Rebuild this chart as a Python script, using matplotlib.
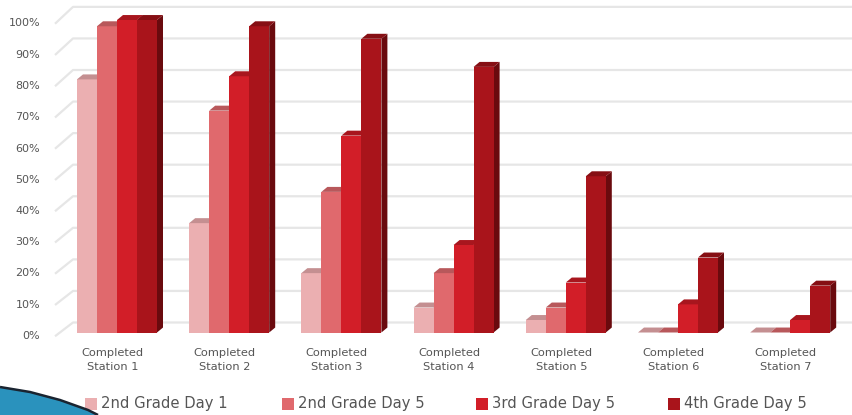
import numpy as np
import matplotlib
matplotlib.use('Agg')
import matplotlib.pyplot as plt
from matplotlib.patches import Polygon, Rectangle

categories = ['Completed\nStation 1', 'Completed\nStation 2', 'Completed\nStation 3',
              'Completed\nStation 4', 'Completed\nStation 5', 'Completed\nStation 6',
              'Completed\nStation 7']
series_names = ['2nd Grade Day 1', '2nd Grade Day 5', '3rd Grade Day 5', '4th Grade Day 5']
grade2_day1 = [81, 35, 19, 8, 4, 0, 0]
grade2_day5 = [98, 71, 45, 19, 8, 0, 0]
grade3_day5 = [100, 82, 63, 28, 16, 9, 4]
grade4_day5 = [100, 98, 94, 85, 50, 24, 15]
yticks = [0, 10, 20, 30, 40, 50, 60, 70, 80, 90, 100]
ytick_labels = ['0%', '10%', '20%', '30%', '40%', '50%', '60%', '70%', '80%', '90%', '100%']

front_cols = ['#ebafb1', '#e0696d', '#d21e28', '#a9141b']
top_cols = ['#c48f91', '#b8585b', '#a8161e', '#860f14']
side_cols = ['#b98083', '#a84245', '#8e1016', '#6a0a0e']

W, H = 853, 415
fig = plt.figure(figsize=(W / 100, H / 100), dpi=100)
# axes: data 0 at pixel y=335, 100 at y=20; x from px 50 to 853
ax = fig.add_axes([50 / W, (H - 335) / H, (W - 50) / W, 315 / H])
x = np.arange(len(categories))
spacing = 112.2
ax.set_xlim((50 - 117) / spacing, (853 - 117) / spacing)
ax.set_ylim(0, 100)
for s in ax.spines.values():
    s.set_visible(False)

data = [grade2_day1, grade2_day5, grade3_day5, grade4_day5]
bw = 20 / spacing
dx = 6 / spacing
dy = 5 / 3.15

# back wall grid lines (slanted floor edge at the left)
xf, xb = (55 - 117) / spacing, (73 - 117) / spacing
for v in yticks:
    yb = v * 1.01 + 3.2
    ax.plot([xf, xb, ax.get_xlim()[1]], [v - 1.2, yb, yb], color='#e6e6e6',
            lw=1.6, zorder=0, clip_on=False, solid_capstyle='butt')

z = 2
for i in range(len(categories)):
    for k, vals in enumerate(data):
        h = vals[i]
        x0 = x[i] - 2 * bw + k * bw
        ax.add_patch(Polygon([(x0 + bw, 0), (x0 + bw + dx, dy), (x0 + bw + dx, h + dy), (x0 + bw, h)],
                             closed=True, fc=side_cols[k], ec='none', zorder=z, clip_on=False))
        ax.bar(x0, h, width=bw, align='edge', color=front_cols[k], zorder=z + 1, clip_on=False)
        ax.add_patch(Polygon([(x0, h), (x0 + dx, h + dy), (x0 + bw + dx, h + dy), (x0 + bw, h)],
                             closed=True, fc=top_cols[k], ec='none', zorder=z + 1, clip_on=False))
        z += 2

ax.set_yticks(np.array(yticks) - 0.8)
ax.set_yticklabels(ytick_labels, fontsize=8, color='#555555')
ax.tick_params(axis='y', length=0, pad=7)
ax.set_xticks(x - 0.04)
ax.set_xticklabels(categories, fontsize=8.2, color='#555555', linespacing=1.55)
ax.tick_params(axis='x', length=0, pad=9)

# legend
leg_x = [85, 282, 476, 668]
for k, name in enumerate(series_names):
    fig.patches.append(Rectangle((leg_x[k] / W, (H - 410) / H), 12 / W, 12 / H,
                                 transform=fig.transFigure, fc=front_cols[k], ec='none'))
    fig.text((leg_x[k] + 16) / W, (H - 403) / H, name, fontsize=10.6, color='#555555',
             va='center', ha='left')

# slide decoration swoosh in the corner
sw = [(0, 387), (30, 392), (60, 400), (88, 410), (98, 415), (0, 415)]
fig.patches.append(Polygon([(px / W, (H - py) / H) for px, py in sw], closed=True,
                           transform=fig.transFigure, fc='#2a92bd', ec='none'))
fig.patches.append(Polygon([(px / W, (H - py) / H) for px, py in sw[:5]], closed=False,
                           transform=fig.transFigure, fill=False, ec='#1a2430', lw=1.8))

fig.savefig('out.png', dpi=100)
